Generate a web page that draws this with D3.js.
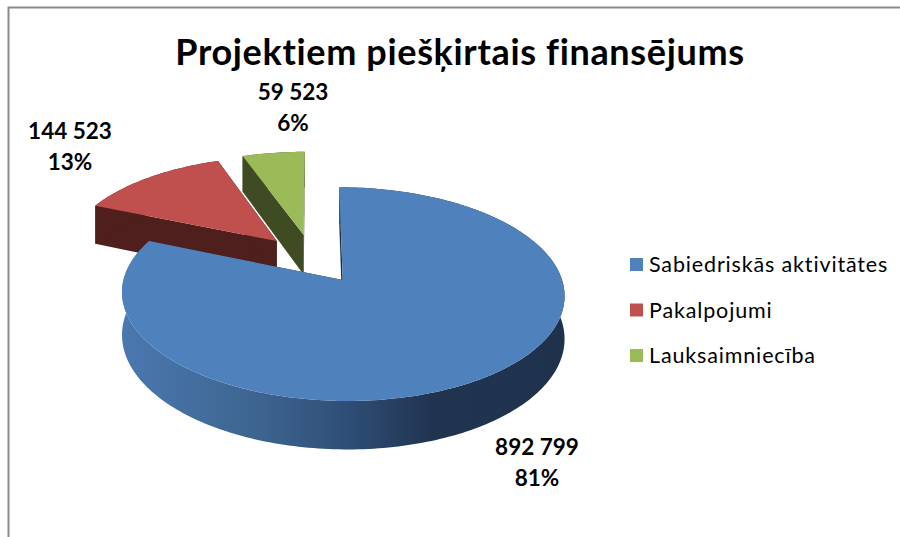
<!DOCTYPE html>
<html><head><meta charset="utf-8">
<style>html,body{margin:0;padding:0;background:#fff}svg{display:block}text{font-family:Lato,"Open Sans",sans-serif;fill:#000}</style>
<script src="https://cdn.jsdelivr.net/npm/d3@7"></script></head>
<body><svg id="c" width="900" height="537"></svg>
<script>
const title = "Projektiem piešķirtais finansējums";
const categories = ["Sabiedriskās aktivitātes", "Pakalpojumi", "Lauksaimniecība"];
const values = [892799, 144523, 59523];
const percents = ["81%", "13%", "6%"];
const valueLabels = ["892 799", "144 523", "59 523"];
const topColors = ["#4F81BD", "#C0504D", "#9BBB59"];
const wallColors = ["#1D3048", "#4F1F1D", "#3F4C23"];

const svg = d3.select("#c");
const defs = svg.append("defs");
const grad = defs.append("linearGradient").attr("id", "side").attr("gradientUnits", "userSpaceOnUse")
  .attr("x1", 122).attr("x2", 565).attr("y1", 0).attr("y2", 0);
[[0, "#4A78B0"], [0.3, "#3E6590"], [0.5, "#2F4F78"], [0.7, "#203450"], [1, "#1F324D"]]
  .forEach(([o, c]) => grad.append("stop").attr("offset", o).attr("stop-color", c));

// frame
svg.append("path").attr("d", "M8.5,537V7.5H900").attr("fill", "none").attr("stroke", "#8a8a8a").attr("stroke-width", 2);

// perspective projection of the tilted disc
const X0 = 312.5, Y0 = 258.8, A = 213.5, B = 99.5, P = 0.1276, H = 41, EXPLODE = 0.25;
const proj = (u, v, d = 0) => { const s = 1 / (1 - P * v); return [X0 + A * u * s, Y0 + B * v * s + d * H * s]; };
const arcs = d3.pie().sort(null).value(d => d)(values);
const line = d3.line();

function slice(a) {
  const mid = (a.startAngle + a.endAngle) / 2;
  const ox = EXPLODE * Math.sin(mid), oy = -EXPLODE * Math.cos(mid);
  const rim = (t, d) => proj(ox + Math.sin(t), oy - Math.cos(t), d);
  const tip = d => proj(ox, oy, d);
  const n = Math.ceil((a.endAngle - a.startAngle) / 0.02);
  const ts = d3.range(n + 1).map(i => a.startAngle + (a.endAngle - a.startAngle) * i / n);
  return {rim, tip, ts};
}
const order = [2, 1, 0];
order.forEach(i => {
  const a = arcs[i], {rim, tip, ts} = slice(a);
  const fill = i === 0 ? "url(#side)" : wallColors[i];
  // radial walls
  [a.startAngle, a.endAngle].forEach(t => {
    svg.append("path").attr("d", line([tip(0), rim(t, 0), rim(t, 1), tip(1)]) + "Z")
      .attr("fill", wallColors[i]);
  });
  // outer wall
  svg.append("path").attr("d", line(ts.map(t => rim(t, 0)).concat(ts.slice().reverse().map(t => rim(t, 1)))) + "Z")
    .attr("fill", fill);
  // top face
  svg.append("path").attr("d", line([tip(0)].concat(ts.map(t => rim(t, 0)))) + "Z")
    .attr("fill", topColors[i]);
});

// title
svg.append("text").attr("x", 460).attr("y", 65).attr("text-anchor", "middle")
  .attr("font-size", 36).attr("letter-spacing", 0.66).attr("font-weight", 700).text(title);

// data labels
const labelPos = [[537, 447, 478], [70, 131, 162], [293, 92, 123]];
labelPos.forEach((p, i) => {
  svg.append("text").attr("x", p[0]).attr("y", p[1] + 8).attr("text-anchor", "middle")
    .attr("font-size", 22.5).attr("font-weight", 700).text(valueLabels[i]);
  svg.append("text").attr("x", p[0]).attr("y", p[2] + 8).attr("text-anchor", "middle")
    .attr("font-size", 22.5).attr("font-weight", 700).text(percents[i]);
});

// legend
const legendY = d3.scalePoint().domain(categories).range([265, 356]);
categories.forEach((c, i) => {
  svg.append("rect").attr("x", 630).attr("y", legendY(c) - 7).attr("width", 13).attr("height", 13).attr("fill", topColors[i]);
  svg.append("text").attr("x", 649).attr("y", legendY(c) + 7).attr("font-size", 21.5).attr("letter-spacing", 0.85).text(c);
});
</script></body></html>
